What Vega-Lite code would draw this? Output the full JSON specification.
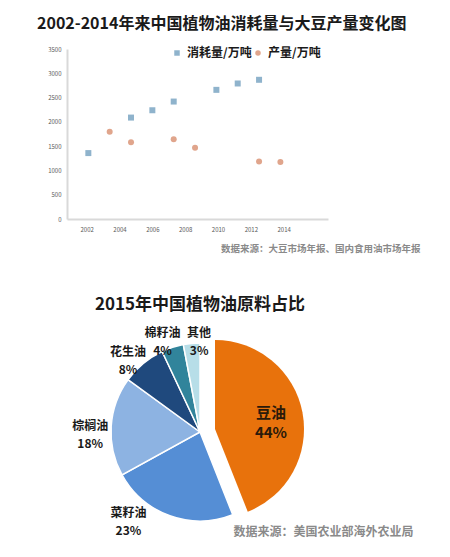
{
  "$schema": "https://vega.github.io/schema/vega-lite/v6.json",
  "background": "white",
  "padding": {"left": 37, "top": 16, "right": 30, "bottom": 10},
  "bounds": "flush",
  "spacing": 124,
  "resolve": {
    "scale": {"color": "independent", "shape": "independent", "x": "independent"},
    "legend": {"color": "independent", "shape": "independent"}
  },
  "config": {
    "view": {"stroke": null},
    "font": "Noto Sans CJK SC"
  },
  "vconcat": [
    {
      "width": 261,
      "height": 170,
      "title": {
        "text": "2002-2014年来中国植物油消耗量与大豆产量变化图",
        "anchor": "start",
        "frame": "group",
        "dx": -30,
        "offset": 14,
        "fontSize": 16,
        "fontWeight": "bold",
        "color": "#1a1a1a"
      },
      "data": {
        "values": [
          {"series": "消耗量/万吨", "year": 2002.1, "value": 1357},
          {"series": "消耗量/万吨", "year": 2004.7, "value": 2088},
          {"series": "消耗量/万吨", "year": 2006.0, "value": 2239},
          {"series": "消耗量/万吨", "year": 2007.3, "value": 2418},
          {"series": "消耗量/万吨", "year": 2009.9, "value": 2659},
          {"series": "消耗量/万吨", "year": 2011.2, "value": 2790},
          {"series": "消耗量/万吨", "year": 2012.5, "value": 2866},
          {"series": "产量/万吨", "year": 2003.4, "value": 1798},
          {"series": "产量/万吨", "year": 2004.7, "value": 1578},
          {"series": "产量/万吨", "year": 2007.3, "value": 1640},
          {"series": "产量/万吨", "year": 2008.6, "value": 1468},
          {"series": "产量/万吨", "year": 2012.5, "value": 1185},
          {"series": "产量/万吨", "year": 2013.8, "value": 1171}
        ]
      },
      "mark": {"type": "point", "filled": true, "size": 36, "opacity": 1},
      "encoding": {
        "x": {
          "field": "year",
          "type": "quantitative",
          "scale": {"domain": [2000.8, 2016.7], "nice": false, "zero": false},
          "axis": {
            "values": [2002, 2004, 2006, 2008, 2010, 2012, 2014],
            "format": "d",
            "grid": false,
            "ticks": false,
            "domainColor": "#d9d9d9",
            "domainWidth": 2,
            "labelFontSize": 6,
            "labelColor": "#595959",
            "labelPadding": 7,
            "title": "数据来源：大豆市场年报、国内食用油市场年报",
            "titleX": 353,
            "titleAlign": "right",
            "titleFontSize": 9.5,
            "titleFontWeight": "bold",
            "titleColor": "#8a8a8a",
            "titlePadding": 11
          }
        },
        "y": {
          "field": "value",
          "type": "quantitative",
          "scale": {"domain": [0, 3500], "nice": false},
          "axis": {
            "values": [0, 500, 1000, 1500, 2000, 2500, 3000, 3500],
            "format": "d",
            "grid": false,
            "ticks": false,
            "domainColor": "#d9d9d9",
            "domainWidth": 2,
            "labelFontSize": 6,
            "labelColor": "#595959",
            "labelPadding": 6,
            "title": null
          }
        },
        "color": {
          "field": "series",
          "type": "nominal",
          "scale": {"domain": ["消耗量/万吨", "产量/万吨"], "range": ["#8fb3cc", "#e0a58c"]},
          "legend": {
            "orient": "none",
            "legendX": 104,
            "legendY": -2,
            "direction": "horizontal",
            "title": null,
            "labelFontSize": 12,
            "labelFontWeight": "bold",
            "labelColor": "#1a1a1a",
            "symbolSize": 30,
            "columnPadding": 0,
            "labelOffset": 4
          }
        },
        "shape": {
          "field": "series",
          "type": "nominal",
          "scale": {"domain": ["消耗量/万吨", "产量/万吨"], "range": ["square", "circle"]}
        }
      }
    },
    {
      "width": 266,
      "height": 178,
      "title": {
        "text": "2015年中国植物油原料占比",
        "fontSize": 17,
        "fontWeight": "bold",
        "color": "#1a1a1a",
        "offset": 5,
        "dy": 16
      },
      "data": {
        "values": [
          {"oil": "豆油", "share": 0.44},
          {"oil": "菜籽油", "share": 0.23},
          {"oil": "棕榈油", "share": 0.18},
          {"oil": "花生油", "share": 0.08},
          {"oil": "棉籽油", "share": 0.04},
          {"oil": "其他", "share": 0.03}
        ]
      },
      "transform": [
        {"calculate": "[datum.oil, format(datum.share, '.0%')]", "as": "label"}
      ],
      "layer": [
        {
          "encoding": {
            "theta": {"field": "share", "type": "quantitative", "stack": true},
            "order": {"field": "share", "type": "quantitative", "sort": "descending"},
            "detail": {"field": "oil", "type": "nominal"}
          },
          "layer": [
            {
              "mark": {"type": "arc", "outerRadius": 89, "stroke": "white", "strokeWidth": 1.5},
              "encoding": {
                "color": {
                  "field": "oil",
                  "type": "nominal",
                  "scale": {
                    "domain": ["豆油", "菜籽油", "棕榈油", "花生油", "棉籽油", "其他"],
                    "range": ["#e8720c", "#558ed5", "#8db3e2", "#1f497d", "#31849b", "#b7dee8"]
                  },
                  "legend": null
                },
                "opacity": {"condition": {"test": "datum.oil === '豆油'", "value": 0}, "value": 1}
              }
            },
            {
              "mark": {"type": "arc", "outerRadius": 89, "xOffset": 15, "yOffset": -3},
              "encoding": {
                "color": {"field": "oil", "type": "nominal", "legend": null},
                "opacity": {"condition": {"test": "datum.oil === '豆油'", "value": 1}, "value": 0}
              }
            },
            {
              "mark": {"type": "text", "radius": 105, "dx": -5, "dy": 1, "lineHeight": 18, "fontSize": 12, "fontWeight": "bold"},
              "encoding": {
                "text": {"field": "label"},
                "color": {"value": "#1a1a1a"},
                "opacity": {"condition": {"test": "indexof(['棕榈油', '花生油', '棉籽油'], datum.oil) >= 0", "value": 1}, "value": 0}
              }
            },
            {
              "mark": {"type": "text", "radius": 105, "dx": -36, "dy": -18, "lineHeight": 18, "fontSize": 12, "fontWeight": "bold"},
              "encoding": {
                "text": {"field": "label"},
                "color": {"value": "#1a1a1a"},
                "opacity": {"condition": {"test": "datum.oil === '菜籽油'", "value": 1}, "value": 0}
              }
            },
            {
              "mark": {"type": "text", "radius": 105, "dx": 9, "dy": 6, "lineHeight": 18, "fontSize": 12, "fontWeight": "bold"},
              "encoding": {
                "text": {"field": "label"},
                "color": {"value": "#1a1a1a"},
                "opacity": {"condition": {"test": "datum.oil === '其他'", "value": 1}, "value": 0}
              }
            },
            {
              "mark": {"type": "text", "radius": 57, "xOffset": 15, "yOffset": -3, "dy": -5, "lineHeight": 20, "fontSize": 15, "fontWeight": "bold"},
              "encoding": {
                "text": {"field": "label"},
                "color": {"value": "#2b1a0a"},
                "opacity": {"condition": {"test": "datum.oil === '豆油'", "value": 1}, "value": 0}
              }
            }
          ]
        },
        {
          "mark": {"type": "point", "opacity": 0},
          "encoding": {
            "x": {
              "field": "share",
              "type": "quantitative",
              "axis": {
                "labels": false,
                "ticks": false,
                "domain": false,
                "grid": false,
                "title": "数据来源：美国农业部海外农业局",
                "titleX": 346,
                "titleY": 10,
                "titleAlign": "right",
                "titleBaseline": "middle",
                "titleFontSize": 12,
                "titleFontWeight": "bold",
                "titleColor": "#8a8a8a"
              }
            }
          }
        }
      ]
    }
  ]
}
